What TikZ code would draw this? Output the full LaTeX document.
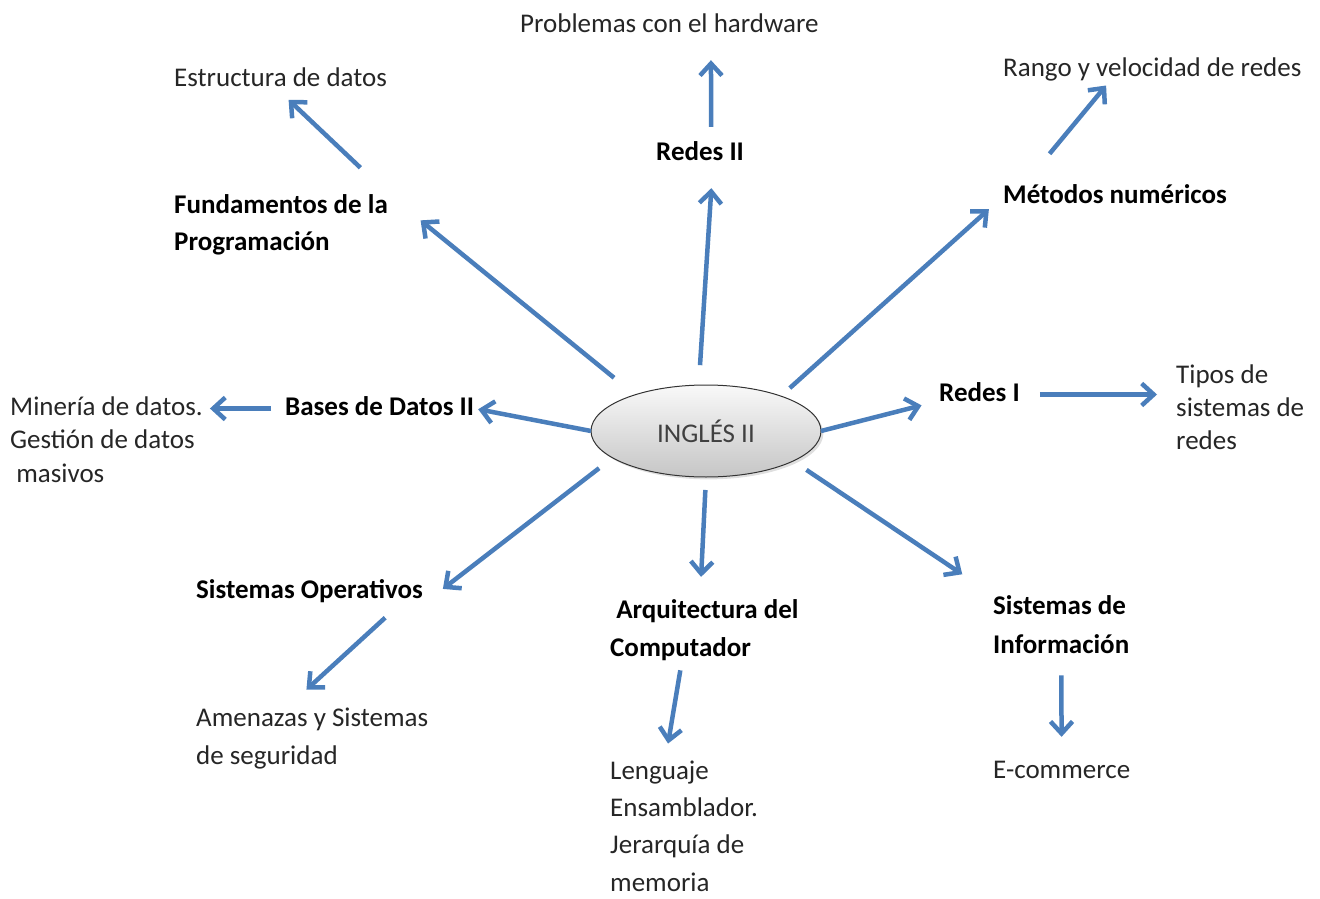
\documentclass[tikz,border=0pt]{standalone}
\usepackage{fontspec}
\setmainfont{Carlito}
\usetikzlibrary{arrows.meta,shapes.geometric,shadows}
\definecolor{flechaazul}{RGB}{74,126,187}

\begin{document}
\begin{tikzpicture}[x=1pt,y=-1pt,
	tema/.style={inner sep=0pt, anchor=base west, font=\fontsize{27}{38}\selectfont\bfseries, text=black},
	detalle/.style={inner sep=0pt, anchor=base west, font=\fontsize{27}{38}\selectfont, text=black!85},
	linea/.style={text height=19pt, text depth=6pt},
	flecha/.style={draw=flechaazul, line width=4.5pt, -{Straight Barb[length=12pt,width=22pt]}}]
	%%%%% START %%%%%
	\useasboundingbox (0,0) rectangle (1320,899);
	
	\node[ellipse, minimum width=230pt, minimum height=92pt, inner sep=0pt, outer sep=0pt, draw=black!80, line width=1pt, top color=gray!5, bottom color=gray!45, drop shadow={opacity=0.25}, font=\fontsize{27}{38}\selectfont, text=black!75] (ing) at (706,431) {INGLÉS II};
	
	% multi-line nodes sit on the baseline of their last line
	\node[tema, linea] (redes2) at (656,160) {Redes II};
	\node[detalle, linea] (prob) at (520,33) {Problemas con el hardware};
	\node[tema, align=left, font=\fontsize{27}{37}\selectfont\bfseries] (fund) at (174,250) {Fundamentos de la\\Programación};
	\node[detalle, linea] (estr) at (174,86) {Estructura de datos};
	\node[tema, linea] (metodos) at (1003,203) {Métodos numéricos};
	\node[detalle, linea] (rango) at (1003,77) {Rango y velocidad de redes};
	\node[tema, linea] (bases) at (285,415) {Bases de Datos II};
	\node[detalle, align=left, font=\fontsize{27}{33.5}\selectfont] (mineria) at (10,482) {Minería de datos.\\Gestión de datos\\\ masivos};
	\node[tema, linea] (redes1) at (939,401) {Redes I};
	\node[detalle, align=left, font=\fontsize{27}{33}\selectfont] (tipos) at (1176,449) {Tipos de\\sistemas de\\redes};
	\node[tema, linea] (sisop) at (196,598) {Sistemas Operativos};
	\node[detalle, align=left] (amen) at (196,764) {Amenazas y Sistemas\\de seguridad};
	\node[tema, align=left] (arq) at (610,656) {\ Arquitectura del\\Computador};
	\node[detalle, align=left, font=\fontsize{27}{37.3}\selectfont] (leng) at (610,891) {Lenguaje\\Ensamblador.\\Jerarquía de\\memoria};
	\node[tema, align=left, font=\fontsize{27}{39}\selectfont\bfseries] (sisinfo) at (993,653) {Sistemas de\\Información};
	\node[detalle, linea] (ecom) at (993,778) {E-commerce};
	
	\draw[flecha, shorten <=27pt, shorten >=42pt] (ing.153) -- (fund.north east);
	\draw[flecha, shorten <=38pt, shorten >=11pt] (fund.north east) -- (estr.south);
	\draw[flecha, shorten <=20pt, shorten >=22pt] (ing.99) -- (redes2.-45);
	\draw[flecha, shorten <=14pt, shorten >=21pt] (redes2.49) -- (prob.-17);
	\draw[flecha, shorten <=12pt, shorten >=19pt] (ing.25) -- (metodos.west);
	\draw[flecha, shorten <=39pt, shorten >=3pt] (metodos.172) -- (rango.-164);
	\draw[flecha, shorten >=4pt] (ing.west) -- (bases.east);
	\draw[flecha, shorten <=14pt, shorten >=7pt] (bases.west) -- (bases.west -| mineria.east);
	\draw[flecha, shorten >=18pt] (ing.east) -- (redes1.189);
	\draw[flecha, shorten <=20pt, shorten >=19pt] (redes1.east) -- (redes1.east -| tipos.west);
	\draw[flecha, shorten <=17pt, shorten >=25pt] (ing.196) -- (sisop.south east);
	\draw[flecha, shorten <=20pt, shorten >=26pt] (sisop.-8) -- (amen.129);
	\draw[flecha, shorten <=13pt, shorten >=22pt] (ing.south) -- (arq.98);
	\draw[flecha, shorten <=10pt, shorten >=17pt] (arq.-126) -- (leng.106);
	\draw[flecha, shorten <=16pt, shorten >=37pt] (ing.-19) -- (sisinfo.north west);
	\draw[flecha, shorten <=22pt, shorten >=22pt] (sisinfo.south) -- (ecom.north);
	%%%%% END %%%%%
\end{tikzpicture}
\end{document}
